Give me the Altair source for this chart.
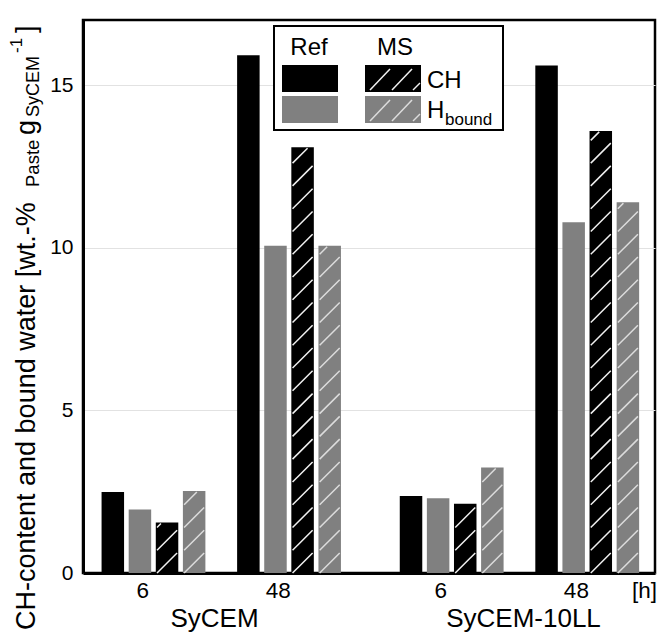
import altair as alt
import pandas as pd

# ---------------- data ----------------
hydration_times = ["6", "48", "6", "48"]
group_material = ["SyCEM", "SyCEM", "SyCEM-10LL", "SyCEM-10LL"]
materials = ["SyCEM", "SyCEM-10LL"]
ref_ch = [2.49, 15.92, 2.37, 15.60]
ref_hbound = [1.95, 10.06, 2.30, 10.78]
ms_ch = [1.55, 13.09, 2.13, 13.59]
ms_hbound = [2.52, 10.06, 3.24, 11.40]
y_ticks = [0, 5, 10, 15]

# ---------------- layout (positions / sizes, not data) ----------------
group_pos = [1.0, 2.0, 3.2, 4.2]
material_label_pos = [1.45, 3.73]
series_offset = {("Ref", "CH"): -0.3, ("Ref", "H"): -0.1, ("MS", "CH"): 0.1, ("MS", "H"): 0.3}
HALF_BAR = 0.083
STEP, RISE, INSET = 0.70, 0.615, 0.009
FONT = "Liberation Sans"
BLACK, GRAY = "#000000", "#808080"

rows = []
series = [("Ref", "CH", ref_ch), ("Ref", "H", ref_hbound), ("MS", "CH", ms_ch), ("MS", "H", ms_hbound)]
for g in range(len(group_pos)):
    for method, qty, vals in series:
        c = group_pos[g] + series_offset[(method, qty)]
        rows.append(dict(time=hydration_times[g], material=group_material[g], method=method,
                         qty=qty, value=vals[g], xl=c - HALF_BAR, xr=c + HALF_BAR))
bars_df = pd.DataFrame(rows)

xscale = alt.Scale(domain=[0.48, 4.70], nice=False, zero=False)
yscale = alt.Scale(domain=[0, 17], nice=False)
xaxis = alt.Axis(labels=False, ticks=False, grid=False, title=None,
                 domainWidth=3, domainColor="black")
yaxis = alt.Axis(values=y_ticks, grid=True, gridColor="#e2e2e2", gridWidth=1,
                 ticks=False, labelPadding=10, labelFontSize=21, labelFont=FONT,
                 labelColor="black", title=None, domainWidth=3, domainColor="black")

bars = alt.Chart(bars_df).mark_bar(strokeWidth=0).encode(
    x=alt.X("xl:Q", scale=xscale, axis=xaxis),
    x2="xr:Q",
    y=alt.Y("value:Q", scale=yscale, axis=yaxis),
    y2=alt.datum(0),
    fill=alt.condition("datum.qty === 'CH'", alt.value(BLACK), alt.value(GRAY)),
)

hatch = (
    alt.Chart(bars_df)
    .transform_filter("datum.method === 'MS'")
    .transform_calculate(k=f"sequence(0, ceil(datum.value / {STEP}))")
    .transform_flatten(["k"])
    .transform_calculate(hy1=f"datum.k * {STEP}")
    .transform_filter("datum.hy1 < datum.value - 0.05")
    .transform_calculate(hy2=f"min(datum.hy1 + {RISE}, datum.value - 0.03)")
    .transform_calculate(hx1=f"datum.xl + {INSET}")
    .transform_calculate(hx2=f"datum.hx1 + (datum.xr - datum.xl - 2*{INSET}) * (datum.hy2 - datum.hy1) / {RISE}")
    .mark_rule(strokeWidth=1.5)
    .encode(
        x=alt.X("hx1:Q", scale=xscale, axis=xaxis), x2="hx2:Q",
        y=alt.Y("hy1:Q", scale=yscale, axis=yaxis), y2="hy2:Q",
        stroke=alt.condition("datum.qty === 'CH'", alt.value("#f0f0f0"), alt.value("#dcdcdc")),
    )
)

groups_df = pd.DataFrame({"time": hydration_times, "pos": group_pos})
tick_text = alt.Chart(groups_df).transform_calculate(lx="datum.pos - 0.08").mark_text(
    fontSize=22.5, font=FONT, baseline="alphabetic", align="center", color="black"
).encode(x=alt.X("lx:Q", scale=xscale, axis=xaxis), y=alt.value(578), text="time:N")

mat_df = pd.DataFrame({"material": materials, "pos": material_label_pos})
mat_text = alt.Chart(mat_df).mark_text(
    fontSize=26, font=FONT, baseline="alphabetic", align="center", color="black"
).encode(x=alt.X("pos:Q", scale=xscale, axis=xaxis), y=alt.value(607), text="material:N")

ONE = alt.Data(values=[{"a": 1}])


def txt(text, x, y, size, angle=0, align="left"):
    return alt.Chart(ONE).mark_text(
        text=text, fontSize=size, font=FONT, angle=angle, align=align,
        baseline="alphabetic", color="black"
    ).encode(x=alt.value(x), y=alt.value(y))


def rect(x1, x2, y1, y2, fill, stroke=None, sw=0):
    kw = dict(fill=fill, strokeWidth=sw)
    if stroke:
        kw["stroke"] = stroke
    return alt.Chart(ONE).mark_rect(**kw).encode(
        x=alt.value(x1), x2=alt.value(x2), y=alt.value(y1), y2=alt.value(y2))


def line(x1, y1, x2, y2, color):
    return alt.Chart(ONE).mark_rule(stroke=color, strokeWidth=1.5).encode(
        x=alt.value(x1), x2=alt.value(x2), y=alt.value(y1), y2=alt.value(y2))


# axis extras
hours = txt("[h]", 574, 578, 22.5, align="right")
ytitle = [
    txt("CH-content and bound water [wt.-%", -48, 610, 27, angle=270),
    txt("Paste", -44, 167, 18.5, angle=270),
    txt("g", -48, 115, 27, angle=270),
    txt("SyCEM", -44, 97, 18, angle=270),
    txt("-1", -61, 33, 17, angle=270),
    txt("]", -48, 13, 27, angle=270),
]

# legend
legend = [
    rect(191, 420, 6, 110, "white", "black", 2),
    txt("Ref", 226, 35, 24, align="center"),
    txt("MS", 312, 35, 24, align="center"),
    rect(199, 255, 45, 72, BLACK),
    rect(199, 255, 76, 103, GRAY),
    rect(282, 338, 45, 72, BLACK),
    rect(282, 338, 76, 103, GRAY),
]
for dy, col in [(0, "#f0f0f0"), (31, "#dcdcdc")]:
    legend += [
        line(287, 70 + dy, 307, 49 + dy, col),
        line(309, 70 + dy, 329, 49 + dy, col),
        line(330, 70 + dy, 337, 63 + dy, col),
    ]
legend += [
    txt("CH", 344, 68, 24),
    txt("H", 344, 98, 24),
    txt("bound", 362, 105, 17),
]

chart = alt.layer(bars, hatch, tick_text, mat_text, hours, *ytitle, *legend).properties(
    width=572, height=553,
    autosize=alt.AutoSizeParams(type="none"),
    padding={"left": 75, "top": 12, "right": 3, "bottom": 60},
).configure_view(stroke="black", strokeWidth=2.5)

chart.save("out.html", embed_options={"renderer": "svg", "actions": False})
